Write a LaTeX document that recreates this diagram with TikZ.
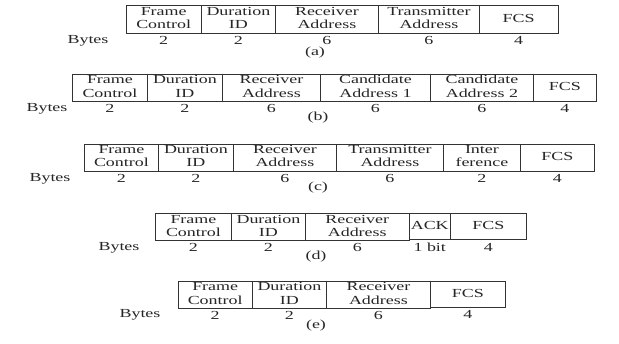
\documentclass[tikz,border=0pt]{standalone}
\usepackage{fontspec}
\setmainfont{Liberation Serif}
\usepackage{graphicx}
\newcommand{\tx}[1]{\scalebox{1.46}[1]{\begin{tabular}{@{}c@{}}#1\end{tabular}}}
\newcommand{\fcell}[6]{\node[cell, minimum width={#3-#2}, minimum height=#5, anchor=north west] (#1) at (#2,#4) {\tx{#6}};}
\newcommand{\fnum}[2]{\node[num] (#1n) at ([yshift=-11.3pt]#1.south) {\tx{#2}};}
\tikzset{
  cell/.style={draw=black!80, line width=0.9pt, inner sep=0pt, text=black!85,
    font=\fontsize{12.3}{13.3}\selectfont},
  num/.style={anchor=base, inner sep=0pt, text=black!85, font=\fontsize{12.3}{13.3}\selectfont},
}
\begin{document}
\begin{tikzpicture}[x=1pt,y=-1pt]
\useasboundingbox[fill=white] (0,0) rectangle (619,343);
% (a)
\fcell{a1}{125.5}{201}{5}{28}{Frame\\Control}
\fcell{a2}{201}{275}{5}{28}{Duration\\ID}
\fcell{a3}{275}{378}{5}{28}{Receiver\\Address}
\fcell{a4}{378}{479}{5}{28}{Transmitter\\Address}
\fcell{a5}{479}{557.5}{5}{28}{FCS}
\node[num] (ab) at (88,44.3) {\tx{Bytes}};
\fnum{a1}{2}\fnum{a2}{2}\fnum{a3}{6}\fnum{a4}{6}\fnum{a5}{4}
\node[num] (al) at (315,55.7) {\tx{(a)}};
% (b)
\fcell{b1}{72}{147}{74}{27}{Frame\\Control}
\fcell{b2}{147}{222}{74}{27}{Duration\\ID}
\fcell{b3}{222}{320}{74}{27}{Receiver\\Address}
\fcell{b4}{320}{430}{74}{27}{Candidate\\Address 1}
\fcell{b5}{430}{533}{74}{27}{Candidate\\Address 2}
\fcell{b6}{533}{596}{74}{27}{FCS}
\node[num] (bb) at (47,112.3) {\tx{Bytes}};
\fnum{b1}{2}\fnum{b2}{2}\fnum{b3}{6}\fnum{b4}{6}\fnum{b5}{6}\fnum{b6}{4}
\node[num] (bl) at (318,121.3) {\tx{(b)}};
% (c)
\fcell{c1}{84}{158}{143.5}{27.2}{Frame\\Control}
\fcell{c2}{158}{233}{143.5}{27.2}{Duration\\ID}
\fcell{c3}{233}{336}{143.5}{27.2}{Receiver\\Address}
\fcell{c4}{336}{443}{143.5}{27.2}{Transmitter\\Address}
\fcell{c5}{443}{520}{143.5}{27.2}{Inter\\ference}
\fcell{c6}{520}{594}{143.5}{27.2}{FCS}
\node[num] (cb) at (50,182) {\tx{Bytes}};
\fnum{c1}{2}\fnum{c2}{2}\fnum{c3}{6}\fnum{c4}{6}\fnum{c5}{2}\fnum{c6}{4}
\node[num] (cl) at (318,190.7) {\tx{(c)}};
% (d)
\fcell{d1}{155}{231}{213.3}{26}{Frame\\Control}
\fcell{d2}{231}{305}{213.3}{26}{Duration\\ID}
\fcell{d3}{305}{408.6}{213.3}{26}{Receiver\\Address}
\fcell{d4}{408.6}{450}{213.3}{26}{ACK}
\fcell{d5}{450}{526}{213.3}{26}{FCS}
\node[num] (db) at (119,250.6) {\tx{Bytes}};
\fnum{d1}{2}\fnum{d2}{2}\fnum{d3}{6}\fnum{d4}{1 bit}\fnum{d5}{4}
\node[num] (dl) at (316,259.7) {\tx{(d)}};
% (e)
\fcell{e1}{177.5}{252}{281}{26}{Frame\\Control}
\fcell{e2}{252}{326}{281}{26}{Duration\\ID}
\fcell{e3}{326}{430}{281}{26}{Receiver\\Address}
\fcell{e4}{430}{505}{281}{26}{FCS}
\node[num] (eb) at (140,318.3) {\tx{Bytes}};
\fnum{e1}{2}\fnum{e2}{2}\fnum{e3}{6}\fnum{e4}{4}
\node[num] (el) at (316,329) {\tx{(e)}};
\end{tikzpicture}
\end{document}
